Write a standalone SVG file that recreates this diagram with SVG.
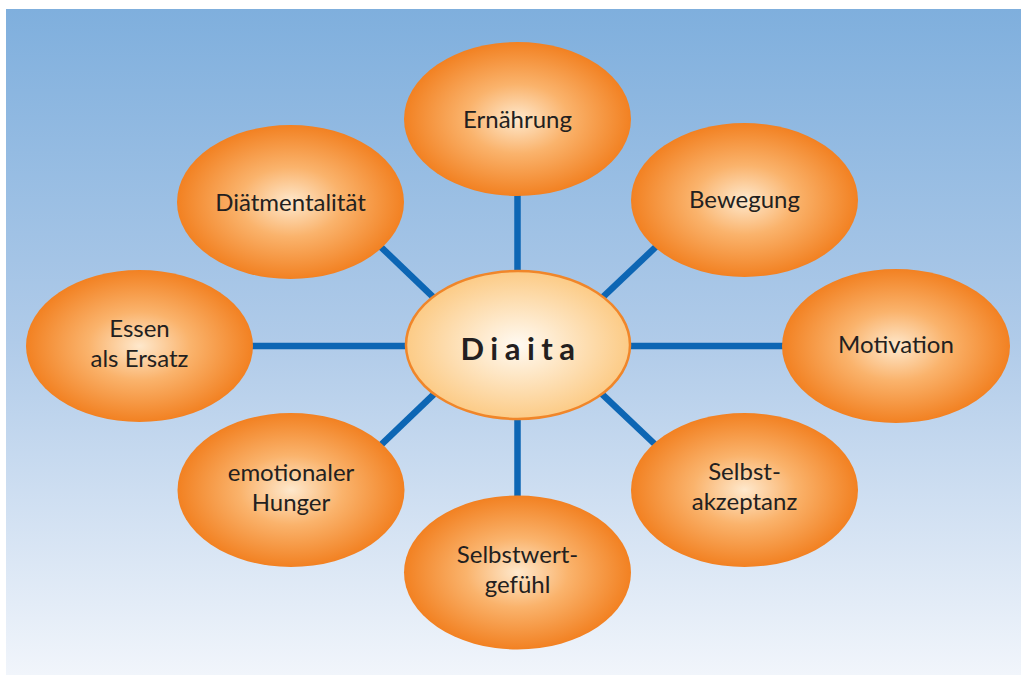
<svg xmlns="http://www.w3.org/2000/svg" width="1021" height="675" viewBox="0 0 1021 675">
<defs>
<linearGradient id="bg" x1="0" y1="0" x2="0" y2="1">
<stop offset="0" stop-color="#7fafdd"/>
<stop offset="0.5" stop-color="#b0cbe9"/>
<stop offset="1" stop-color="#f1f5fb"/>
</linearGradient>
<radialGradient id="og" cx="0.5" cy="0.5" r="0.5">
<stop offset="0" stop-color="#fee8cc"/>
<stop offset="0.45" stop-color="#fab36c"/>
<stop offset="1" stop-color="#f28122"/>
</radialGradient>
<radialGradient id="cg" cx="0.5" cy="0.5" r="0.5">
<stop offset="0" stop-color="#fffaf2"/>
<stop offset="1" stop-color="#fccb86"/>
</radialGradient>
<style>
.n{fill:url(#og)}
.t{font-family:Lato,"Noto Sans","Liberation Sans",sans-serif;font-size:24px;fill:#231f20;text-anchor:middle}
.c line{stroke:#0d66b4;stroke-width:6.5}
</style>
</defs>
<rect x="6" y="9" width="1015" height="666" fill="url(#bg)"/>
<g class="c" id="connectors">
<line x1="517.5" y1="190" x2="517.5" y2="278"/>
<line x1="517.5" y1="412" x2="517.5" y2="502"/>
<line x1="245" y1="346" x2="410" y2="346"/>
<line x1="626" y1="346" x2="790" y2="346"/>
<line x1="375" y1="241.3" x2="440" y2="303.7"/>
<line x1="596" y1="303.7" x2="662" y2="241"/>
<line x1="375" y1="450.7" x2="440" y2="388.3"/>
<line x1="596" y1="388.3" x2="662" y2="451"/>
</g>
<g id="n-ernaehrung"><ellipse class="n" cx="517.5" cy="119" rx="113.5" ry="77"/><text class="t" x="517.5" y="128">Ernährung</text></g>
<g id="n-diaet"><ellipse class="n" cx="290.5" cy="202" rx="113.5" ry="77"/><text class="t" x="290.5" y="211">Diätmentalität</text></g>
<g id="n-bewegung"><ellipse class="n" cx="744.5" cy="200" rx="113.5" ry="77"/><text class="t" x="744.5" y="208">Bewegung</text></g>
<g id="n-essen"><ellipse class="n" cx="139.5" cy="346" rx="113.5" ry="76"/><text class="t" x="139.5" y="337">Essen</text><text class="t" x="139.5" y="367">als Ersatz</text></g>
<g id="n-motivation"><ellipse class="n" cx="896" cy="346" rx="114" ry="77"/><text class="t" x="896" y="353">Motivation</text></g>
<g id="n-hunger"><ellipse class="n" cx="291" cy="490" rx="113.5" ry="77"/><text class="t" x="291" y="481">emotionaler</text><text class="t" x="291" y="511">Hunger</text></g>
<g id="n-akzeptanz"><ellipse class="n" cx="744.5" cy="490" rx="113.5" ry="77"/><text class="t" x="744.5" y="480">Selbst-</text><text class="t" x="744.5" y="510">akzeptanz</text></g>
<g id="n-selbstwert"><ellipse class="n" cx="517.5" cy="572.5" rx="113.5" ry="77"/><text class="t" x="517.5" y="563">Selbstwert-</text><text class="t" x="517.5" y="593">gefühl</text></g>
<g id="n-diaita"><ellipse cx="518" cy="345" rx="112" ry="74" fill="url(#cg)" stroke="#f0862a" stroke-width="2.5"/><text x="521" y="360" font-family="Lato,'Liberation Sans',sans-serif" font-weight="bold" font-size="31" letter-spacing="6.5" fill="#231f20" text-anchor="middle">Diaita</text></g>
</svg>
